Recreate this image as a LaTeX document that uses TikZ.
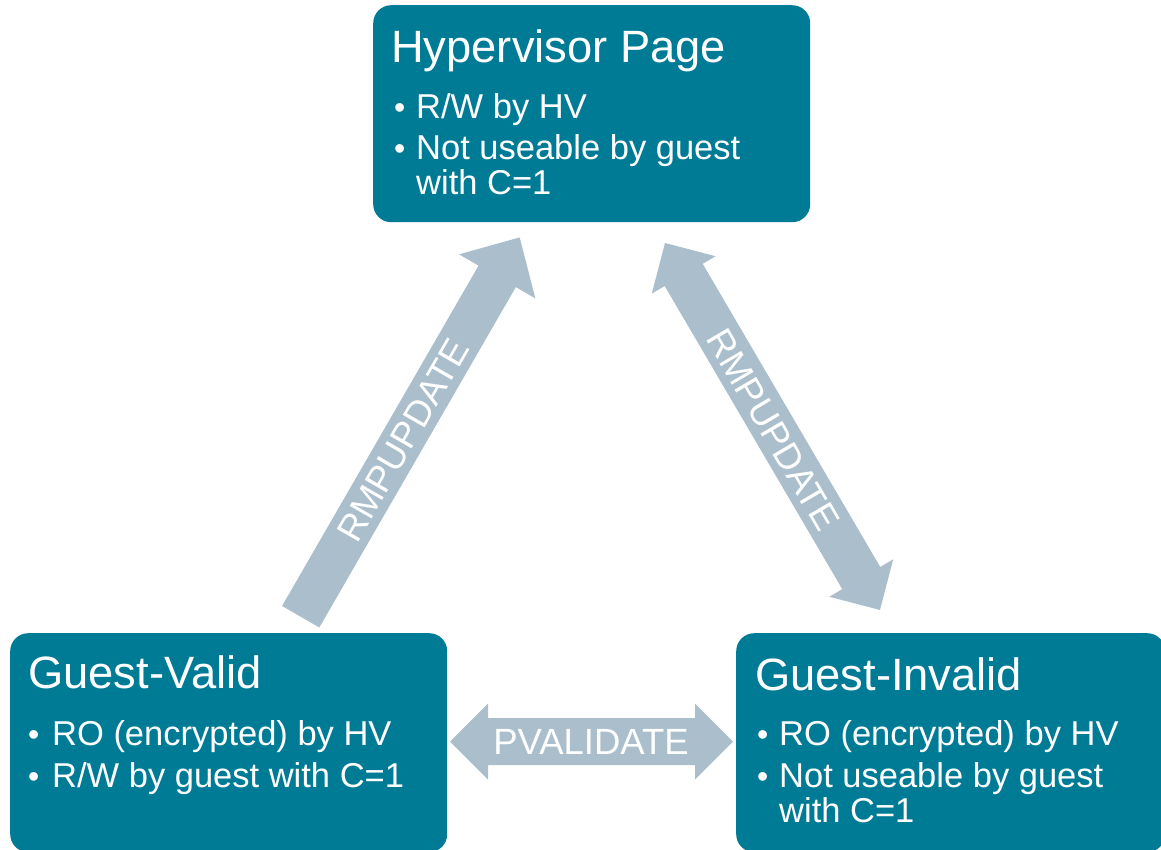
\documentclass[tikz,border=0pt]{standalone}
\usepackage{fontspec}
\setmainfont{Liberation Sans}
\begin{document}
\begin{tikzpicture}[x=1pt,y=-1pt,
  box/.style={fill=boxteal, rounded corners=18pt, inner sep=0pt, anchor=north west},
  ttl/.style={anchor=base west, inner sep=0pt, text=white, font=\fontsize{45.3}{54}\selectfont},
  itm/.style={anchor=base west, inner sep=0pt, text=white, font=\fontsize{34.5}{40}\selectfont},
  blt/.style={anchor=base west, inner sep=0pt, text=white, font=\fontsize{32}{40}\selectfont},
  arrfill/.style={fill=arrowgray},
  alabel/.style={inner sep=0pt, text=white, font=\fontsize{36.5}{40}\selectfont}]
\definecolor{boxteal}{RGB}{0,123,150}
\definecolor{arrowgray}{RGB}{170,191,203}
\useasboundingbox (0,0) rectangle (1161,849);
\clip (0,0) rectangle (1161,849);
\fill[white] (0,0) rectangle (1161,849);

% boxes
\node[box, minimum width=437pt, minimum height=217pt] (hv) at (373,5) {};
\node[box, minimum width=437pt, minimum height=219pt] (gv) at (10,633) {};
\node[box, minimum width=429pt, minimum height=219pt] (gi) at (736,633) {};

% Hypervisor Page text
\node[ttl] (hvt) at (391,62) {Hypervisor Page};
\node[blt] (hvb1) at (394,118) {•};
\node[itm] (hv1) at (416,118) {R/W by HV};
\node[blt] (hvb2) at (394,159) {•};
\node[itm] (hv2) at (416,159) {Not useable by guest};
\node[itm] (hv3) at (416,194) {with C=1};

% Guest-Valid text
\node[ttl] (gvt) at (28,688) {Guest-Valid};
\node[blt] (gvb1) at (28,745) {•};
\node[itm] (gv1) at (52,745) {RO (encrypted) by HV};
\node[blt] (gvb2) at (28,787) {•};
\node[itm] (gv2) at (52,787) {R/W by guest with C=1};

% Guest-Invalid text
\node[ttl] (git) at (755,690) {Guest-Invalid};
\node[blt] (gib1) at (757,745) {•};
\node[itm] (gi1) at (779,745) {RO (encrypted) by HV};
\node[blt] (gib2) at (757,787) {•};
\node[itm] (gi2) at (779,787) {Not useable by guest};
\node[itm] (gi3) at (779,822) {with C=1};

% left arrow: Guest-Valid -> Hypervisor Page
\coordinate (la) at (300.7,616.7);
\coordinate (lb) at (520,238.3);
\begin{scope}[shift={(la)}, rotate=60]
  \fill[arrfill] (0,-21.5) -- (393,-21.5) -- (393,-44) -- (438,0) -- (393,44) -- (393,21.5) -- (0,21.5) -- cycle;
\end{scope}
\node[alabel, rotate=60] (lbl1) at (403,440) {RMPUPDATE};

% right arrow: Hypervisor Page <-> Guest-Invalid
\coordinate (ra) at (665,243);
\coordinate (rb) at (880,610);
\begin{scope}[shift={(ra)}, rotate=-59.64]
  \fill[arrfill] (0,0) -- (37,-37) -- (37,-22) -- (388.3,-22) -- (388.3,-37) -- (425.3,0) -- (388.3,37) -- (388.3,22) -- (37,22) -- (37,37) -- cycle;
\end{scope}
\node[alabel, rotate=-59.64] (lbl2) at (773,430) {RMPUPDATE};

% PVALIDATE arrow
\coordinate (pa) at (450,741.5);
\coordinate (pb) at (733,741.5);
\fill[arrfill] (pa) -- (488,703.5) -- (488,718) -- (695,718) -- (695,703.5) -- (pb) -- (695,779.5) -- (695,765) -- (488,765) -- (488,779.5) -- cycle;
\node[alabel] (lbl3) at (591,741.5) {PVALIDATE};
\end{tikzpicture}
\end{document}
